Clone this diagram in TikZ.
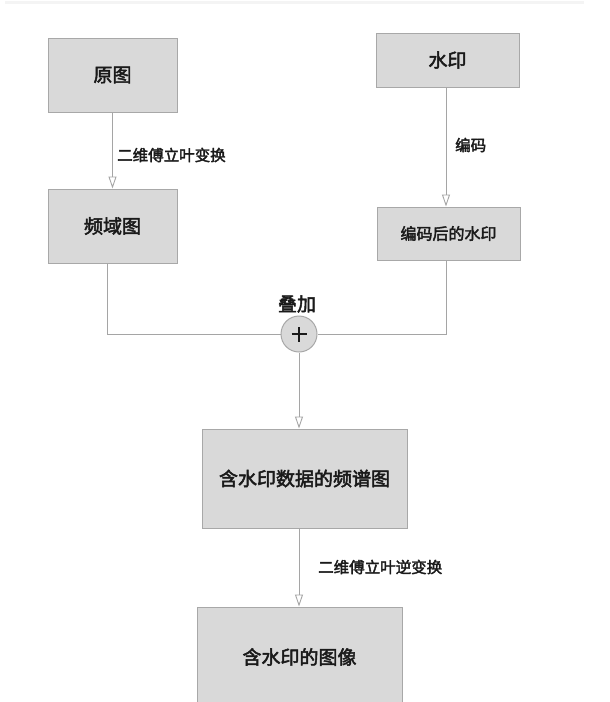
\documentclass[tikz,border=0pt]{standalone}
\usepackage{fontspec}
\newfontfamily\cjk{Noto Sans CJK SC}[FakeBold=2.5]
\usetikzlibrary{arrows.meta}
\definecolor{boxfill}{HTML}{D9D9D9}
\definecolor{boxline}{HTML}{A8A8A8}
\definecolor{wire}{HTML}{A5A5A5}
\definecolor{txt}{HTML}{1A1A1A}
\tikzset{
  box/.style={draw=boxline, fill=boxfill, line width=1pt, inner sep=0pt, text=txt, font=\cjk\fontsize{19}{21}\selectfont},
  wirestyle/.style={draw=wire, line width=0.9pt},
  arr/.style={wirestyle, -{Triangle[open, length=12pt, width=8pt]}},
  elabel/.style={font=\cjk\fontsize{15.5}{17}\selectfont, text=txt, inner sep=0pt, anchor=west},
}
\begin{document}
\begin{tikzpicture}[x=1pt,y=-1pt]
\useasboundingbox (0,0) rectangle (610,702);
\fill[color={rgb,255:red,244;green,244;blue,244}] (5,1) rectangle (584,3.5);
\begin{scope}
\clip (0,0) rectangle (610,702);
\node[box, minimum width=129pt, minimum height=74pt] (yt) at (112.5,75) {原图};
\node[box, minimum width=143pt, minimum height=54pt] (sy) at (447.5,60) {水印};
\node[box, minimum width=129pt, minimum height=74pt] (pyt) at (112.5,226) {频域图};
\node[box, minimum width=143pt, minimum height=53pt, font=\cjk\fontsize{16}{18}\selectfont] (bm) at (448.5,233.5) {编码后的水印};
\node[draw=boxline, fill=boxfill, line width=1pt, circle, minimum size=36pt, inner sep=0pt] (plus) at (299,334) {};
\draw[line width=2.6pt, color=txt] ([xshift=-7.5pt]plus.center) -- ([xshift=7.5pt]plus.center)
  ([yshift=-7.5pt]plus.center) -- ([yshift=7.5pt]plus.center);
\node[font=\cjk\fontsize{19}{21}\selectfont, text=txt, inner sep=0pt] (dj) at (297,304) {叠加};
\node[box, minimum width=205pt, minimum height=99pt] (hb) at (304.5,478.5) {含水印数据的频谱图};
\node[box, minimum width=205pt, minimum height=100pt] (out) at (299.5,657) {含水印的图像};
\end{scope}
\draw[arr] (yt.south) -- (pyt.north);
\node[elabel] (l1) at (117,155) {二维傅立叶变换};
\draw[arr] (sy.south -| 446,0) -- (bm.north -| 446,0);
\node[elabel] (l2) at (455,145) {编码};
\draw[wirestyle] ([xshift=-5.5pt]pyt.south) |- (plus.west);
\draw[wirestyle] ([xshift=-2.5pt]bm.south) |- (plus.east);
\draw[arr] (plus.south) -- (plus.south |- hb.north);
\draw[arr] (hb.south -| plus.south) -- (out.north -| plus.south);
\node[elabel] (l3) at (318,567) {二维傅立叶逆变换};
\end{tikzpicture}
\end{document}
